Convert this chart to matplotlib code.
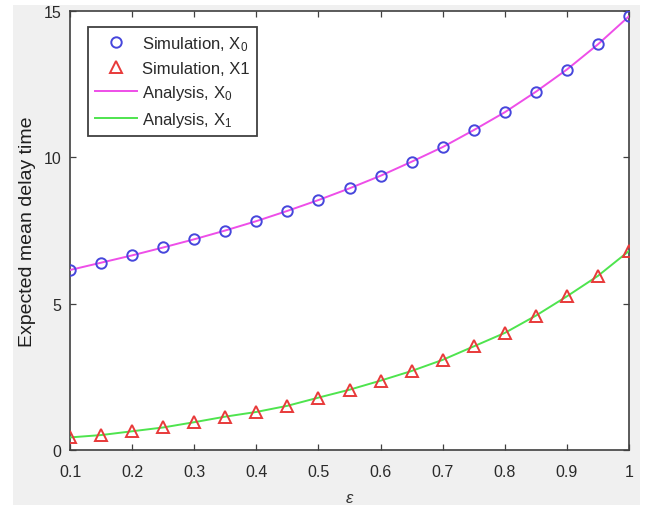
import matplotlib
matplotlib.use("Agg")
import matplotlib.pyplot as plt
from matplotlib.patches import Rectangle

plt.rcParams['font.family'] = ['Liberation Sans', 'DejaVu Sans']
plt.rcParams['mathtext.fontset'] = 'custom'
plt.rcParams['mathtext.rm'] = 'Liberation Sans'
plt.rcParams['mathtext.it'] = 'Liberation Sans:italic'

# Data
epsilon = [0.10, 0.15, 0.20, 0.25, 0.30, 0.35, 0.40, 0.45, 0.50, 0.55,
           0.60, 0.65, 0.70, 0.75, 0.80, 0.85, 0.90, 0.95, 1.00]
sim_x0 = [6.15, 6.40, 6.65, 6.92, 7.20, 7.50, 7.82, 8.17, 8.54, 8.94,
          9.37, 9.85, 10.35, 10.93, 11.54, 12.24, 13.00, 13.86, 14.82]
sim_x1 = [0.43, 0.51, 0.64, 0.77, 0.95, 1.14, 1.30, 1.51, 1.79, 2.06,
          2.37, 2.70, 3.08, 3.54, 4.00, 4.59, 5.25, 5.95, 6.80]
ana_x0 = [6.15, 6.40, 6.65, 6.92, 7.20, 7.50, 7.82, 8.17, 8.54, 8.94,
          9.37, 9.85, 10.35, 10.93, 11.54, 12.24, 13.00, 13.86, 14.82]
ana_x1 = [0.43, 0.51, 0.64, 0.77, 0.95, 1.14, 1.30, 1.51, 1.79, 2.06,
          2.37, 2.70, 3.08, 3.54, 4.00, 4.59, 5.25, 5.95, 6.80]
xticks = [0.1, 0.2, 0.3, 0.4, 0.5, 0.6, 0.7, 0.8, 0.9, 1]
xticklabels = ['0.1', '0.2', '0.3', '0.4', '0.5', '0.6', '0.7', '0.8', '0.9', '1']
yticks = [0, 5, 10, 15]
yticklabels = ['0', '5', '10', '15']

W, H = 648, 506
fig = plt.figure(figsize=(W / 100, H / 100), dpi=100, facecolor='white')
fig.patches.append(Rectangle((13 / W, 0), (640 - 13) / W, (506 - 6) / H,
                             transform=fig.transFigure, facecolor='#f0f0f0',
                             edgecolor='none', zorder=-10))

left, right, top, bottom = 70, 629, 12, 451
ax = fig.add_axes([left / W, 1 - bottom / H, (right - left) / W, (bottom - top) / H])
ax.set_facecolor('white')

c_blue = '#4646dc'
c_red = '#e83a3a'
c_mag = '#ee4ee8'
c_green = '#4ee44e'

l1, = ax.plot(epsilon, sim_x0, linestyle='none', marker='o', markersize=7.5,
              markerfacecolor='none', markeredgecolor=c_blue, markeredgewidth=1.4,
              label='Simulation, X$_0$', zorder=4)
l2, = ax.plot(epsilon, sim_x1, linestyle='none', marker='^', markersize=8,
              markerfacecolor='none', markeredgecolor=c_red, markeredgewidth=1.4,
              label='Simulation, X1', zorder=4)
l3, = ax.plot(epsilon, ana_x0, color=c_mag, linewidth=1.4, label='Analysis, X$_0$', zorder=3)
l4, = ax.plot(epsilon, ana_x1, color=c_green, linewidth=1.4, label='Analysis, X$_1$', zorder=3)

ax.set_xlim(0.1, 1)
ax.set_ylim(0, 15)
ax.set_xticks(xticks)
ax.set_xticklabels(xticklabels)
ax.set_yticks(yticks)
ax.set_yticklabels(yticklabels)
ax.tick_params(direction='in', length=4, width=0.9, color='#404040',
               labelsize=11.5, labelcolor='#2a2a2a', top=True, right=True)
ax.tick_params(axis='x', pad=10)
ax.tick_params(axis='y', pad=6)
for s in ax.spines.values():
    s.set_color('#404040')
    s.set_linewidth(1.2)

ax.set_ylabel('Expected mean delay time', fontsize=14, color='#1e1e1e', labelpad=6)
ax.set_xlabel(r'$\epsilon$', fontsize=12, color='#333333', labelpad=8)

leg = ax.legend(handles=[l1, l2, l3, l4], loc='upper left',
                bbox_to_anchor=(0.032, 0.964), borderaxespad=0, fancybox=False,
                framealpha=1, edgecolor='#404040', fontsize=12,
                handlelength=2.5, handletextpad=0.3, labelspacing=0.45,
                borderpad=0.45)
leg.get_frame().set_linewidth(1.3)
for t in leg.get_texts():
    t.set_color('#2a2a2a')

fig.savefig('out.png', dpi=100, facecolor=fig.get_facecolor())
